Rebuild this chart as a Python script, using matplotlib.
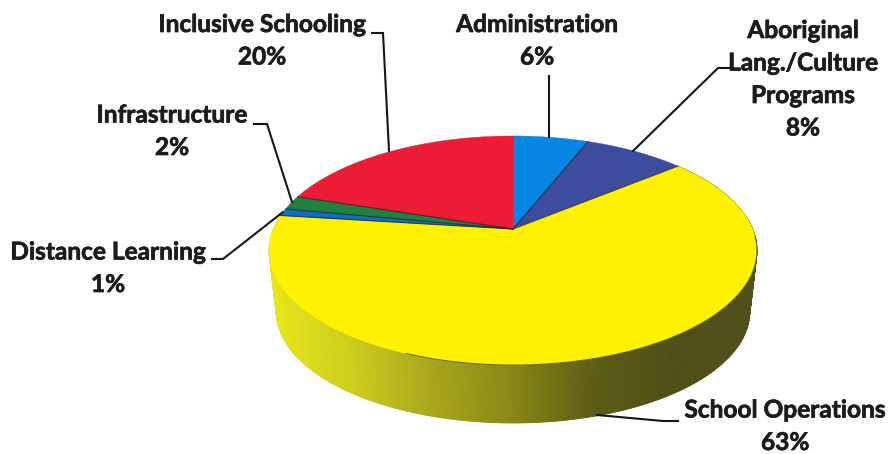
import numpy as np
import matplotlib
matplotlib.use("Agg")
from matplotlib import pyplot as plt
from matplotlib import patheffects
from matplotlib.colors import LinearSegmentedColormap

# Budget shares, clockwise from twelve o'clock
categories = ["Administration", "Aboriginal\nLang./Culture\nPrograms", "School Operations",
              "Distance Learning", "Infrastructure", "Inclusive Schooling"]
shares = [6, 8, 63, 1, 2, 20]
colors = ["#0686e2", "#3c4c9e", "#fff200", "#0a70c6", "#1f8040", "#ee1b36"]

# Label centre x and the baseline y of the first text line
label_x = [537, 803, 785, 108, 172, 262]
label_y = [32, 38, 417.5, 259.5, 122.5, 32]
line_gap = 32.5

# Leader lines, one polyline per slice
leaders = [
    ([549, 549], [137, 76]),
    ([633, 718, 731], [151, 68, 68]),
    ([597, 663, 678], [415, 421, 421]),
    ([283, 223, 212], [212, 259, 259]),
    ([292, 267, 254], [202, 124, 124]),
    ([389, 383, 372], [151, 33, 33]),
]

# Shading of the rim along the yellow slice, left side to right side
rim_colors = ["#e6e61a", "#cccc1c", "#a6a61c", "#888816", "#5c5c14", "#4e4f16", "#50501a"]

# Pie drawn as a disc seen in perspective
cx, cy = 513, 229
rad_x, rad_y = 239.6, 110.5
persp = 0.188
rim_scale, rim_drop = 0.97, 62


def disc_xy(frac, scale=1.0, drop=0.0):
    # frac is the fraction of the full turn, clockwise from the top
    t = 2 * np.pi * np.asarray(frac, dtype=float)
    u, v = np.sin(t), np.cos(t)
    w = 1 + persp * v
    return cx + scale * rad_x * u / w, cy + drop - scale * rad_y * v / w


def main():
    plt.rcParams["font.family"] = ["Lato", "DejaVu Sans"]
    fig = plt.figure(figsize=(8.89, 4.54), dpi=100)
    ax = fig.add_axes([0, 0, 1, 1])
    ax.set_xlim(0, 889)
    ax.set_ylim(454, 0)
    ax.axis("off")

    edges = np.cumsum([0] + shares) / sum(shares)

    # Rim of the big slice, narrow strips back to front
    cmap = LinearSegmentedColormap.from_list("rim", rim_colors)
    start, stop = edges[2], edges[3]
    steps = np.linspace(start, stop, 400)
    for a, b in zip(steps[:-1], steps[1:]):
        x1, y1 = disc_xy([a, b])
        x2, y2 = disc_xy([b, a], rim_scale, rim_drop)
        # x position decides the shade, dark to the right
        pos = (x1[0] - 270) / (757 - 270)
        ax.fill(np.r_[x1, x2], np.r_[y1, y2], color=cmap(pos), lw=0.6, zorder=1)

    # Top faces
    for i in range(len(shares)):
        arc = np.linspace(edges[i], edges[i + 1], 200)
        x, y = disc_xy(arc)
        ax.fill(np.r_[cx, x], np.r_[cy, y], color=colors[i], lw=0.3, zorder=2)

    # Dark seams on the spokes and along the front of the top face
    for i in range(1, len(shares)):
        x, y = disc_xy(edges[i])
        ax.plot([cx, x], [cy, y], color="#2a2030", lw=0.8, alpha=0.8, zorder=3)
    x, y = disc_xy(np.linspace(0.26, 0.56, 200))
    ax.plot(x, y, color="#3a3a10", lw=0.8, alpha=0.7, zorder=3)

    # Labels with their leaders
    heavy = [patheffects.withStroke(linewidth=0.5, foreground="#1c1c1c")]
    for i in range(len(categories)):
        ax.plot(leaders[i][0], leaders[i][1], color="#161616", lw=1.5, zorder=4,
                solid_joinstyle="miter")
        lines = categories[i].split("\n") + ["{}%".format(shares[i])]
        for j, line in enumerate(lines):
            ax.text(label_x[i], label_y[i] + j * line_gap, line, ha="center", va="baseline",
                    fontsize=17.6, fontweight="bold", color="#1c1c1c", zorder=5,
                    path_effects=heavy)

    fig.savefig("out.png", dpi=100)


if __name__ == '__main__':
    main()
